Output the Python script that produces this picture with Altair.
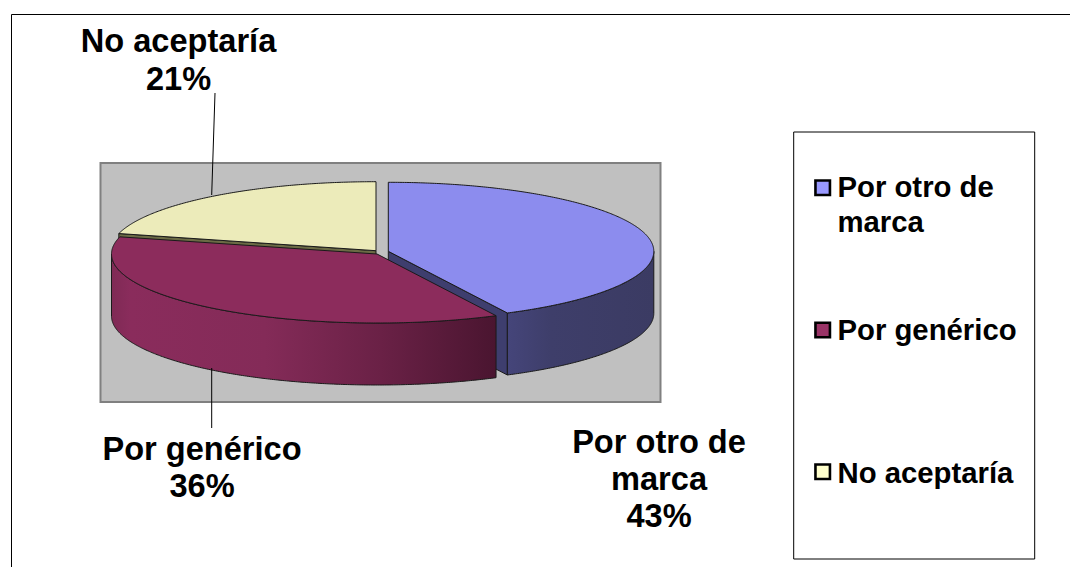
import numpy as np
import altair as alt

# ---- values ----
categories = ["Por otro de marca", "Por genérico", "No aceptaría"]
shares = [42.6, 36.4, 21.0]
legend_labels = ["Por otro de\nmarca", "Por genérico", "No aceptaría"]
slice_labels = ["Por otro de\nmarca\n43%", "Por genérico\n36%", "No aceptaría\n21%"]
legend_colors = ["#9999FF", "#993366", "#FFFFCC"]
top_colors = ["#8C8CEE", "#8C2C5C", "#ECEBBA"]

W, H = 1062, 559
OFF = 8  # page margin
A, B, DEPTH = 265.5, 69.0, 62.0
FONT = "Liberation Sans"
EDGE = "#1a1a1a"

cum = np.cumsum([0] + shares) * 3.6
centers = [(388.3, 251.3), (377.0, 254.0), (376.0, 250.7)]


def arc(center, a0, a1, dy=0.0):
    th = np.radians(np.linspace(a0, a1, int(abs(a1 - a0)) * 2 + 2))
    xs = center[0] + A * np.sin(th) - OFF
    ys = center[1] - B * np.cos(th) + dy - OFF
    return [[float(x), float(y)] for x, y in zip(xs, ys)]


def feature(ring):
    ring = ring + [ring[0]]
    return {"type": "Feature", "properties": {},
            "geometry": {"type": "Polygon", "coordinates": [ring]}}


proj = alt.Projection(type="identity", scale=1, translate=[0, 0])


def shape(ring, fill):
    return alt.Chart(alt.Data(values=[feature(ring)])).mark_geoshape(
        fill=fill, stroke=EDGE, strokeWidth=1
    ).project(**proj.to_dict())


def grad(stops):
    return alt.Gradient(
        gradient="linear", x1=0, x2=1, y1=0, y2=0,
        stops=[alt.GradientStop(offset=o, color=c) for o, c in stops],
    )


def rect(x0, y0, x1, y1, **kw):
    return alt.Chart(alt.Data(values=[{"k": 0}])).mark_rect(**kw).encode(
        x=alt.value(x0 - OFF), x2=alt.value(x1 - OFF),
        y=alt.value(y0 - OFF), y2=alt.value(y1 - OFF),
    )


def line(x0, y0, x1, y1, **kw):
    return alt.Chart(alt.Data(values=[{"k": 0}])).mark_rule(color="#000000", strokeWidth=1, **kw).encode(
        x=alt.value(x0 - OFF), x2=alt.value(x1 - OFF),
        y=alt.value(y0 - OFF), y2=alt.value(y1 - OFF),
    )


def text(label, x, y, size, align, lh):
    return alt.Chart(alt.Data(values=[{"t": label}])).mark_text(
        font=FONT, fontWeight="bold", fontSize=size, align=align, baseline="alphabetic",
        lineBreak="\n", lineHeight=lh, color="#000000",
    ).encode(text="t:N", x=alt.value(x - OFF), y=alt.value(y - OFF))


def swatch(color, x, y):
    return alt.Chart(alt.Data(values=[{"k": 0}])).mark_square(
        size=210, fill=color, stroke="#000000", strokeWidth=2.6, opacity=1
    ).encode(x=alt.value(x - OFF), y=alt.value(y - OFF))


# ---- geometry derived from the shares ----
blue_c, red_c, cream_c = centers
b0, b1 = cum[0], cum[1]
r0, r1 = cum[1], cum[2]
c0, c1 = cum[2], cum[3]


def apex(c, dy=0.0):
    return [c[0] - OFF, c[1] + dy - OFF]


cream_tip = arc(cream_c, c0, c0)[0]
cream_cut = [apex(cream_c), cream_tip, [cream_tip[0], cream_tip[1] + DEPTH], apex(cream_c, DEPTH)]
cream_top = [apex(cream_c)] + arc(cream_c, c0, c1)

blue_end = arc(blue_c, b1, b1)[0]
blue_cut = [apex(blue_c), blue_end, [blue_end[0], blue_end[1] + DEPTH], apex(blue_c, DEPTH)]
blue_wall = arc(blue_c, 90, b1) + arc(blue_c, b1, 90, DEPTH)
blue_top = [apex(blue_c)] + arc(blue_c, b0, b1)

red_wall = arc(red_c, r0, 270) + arc(red_c, 270, r0, DEPTH)
red_top = [apex(red_c)] + arc(red_c, r0, r1)

layers = [
    # frame, open at right and bottom
    line(11.5, 14.5, 1070, 14.5),
    line(11.5, 14.5, 11.5, 567),
    # plot background
    rect(100.5, 163, 660.5, 402, fill="#C0C0C0", stroke="#808080", strokeWidth=2),
    # pie
    shape(cream_cut, "#6B6B45"),
    shape(cream_top, top_colors[2]),
    shape(blue_cut, "#3E3E6E"),
    shape(blue_wall, grad([(0, "#45457A"), (0.3, "#3E3E6A"), (1, "#3B3B63")])),
    shape(blue_top, top_colors[0]),
    shape(red_wall, grad([(0, "#7F2A55"), (0.05, "#8A2C5C"), (0.4, "#842B58"),
                          (0.7, "#6A2146"), (1, "#4A1530")])),
    shape(red_top, top_colors[1]),
    # leader lines
    line(215, 93, 211.7, 195),
    line(211.7, 368, 211.7, 428),
    # legend
    rect(793.7, 132, 1034.7, 559, fill="#FFFFFF", stroke="#000000", strokeWidth=1),
    swatch(legend_colors[0], 822.7, 187.7),
    swatch(legend_colors[1], 822.7, 330),
    swatch(legend_colors[2], 822.7, 471.7),
    text(legend_labels[0], 837.5, 197, 29.3, "left", 34.5),
    text(legend_labels[1], 837.5, 340, 29.3, "left", 34.5),
    text(legend_labels[2], 837.5, 483, 29.3, "left", 34.5),
    # slice labels
    text(slice_labels[0], 659, 453, 32.6, "center", 37),
    text(slice_labels[1], 202, 460, 32.6, "center", 36.5),
    text(slice_labels[2], 178.5, 52, 32.6, "center", 38),
]

chart = alt.layer(*layers).properties(
    width=W, height=H, padding=0, background="#FFFFFF",
    autosize=alt.AutoSizeParams(type="none"),
).configure_view(stroke=None)

chart.save("out.html", embed_options={"renderer": "svg", "actions": False})
